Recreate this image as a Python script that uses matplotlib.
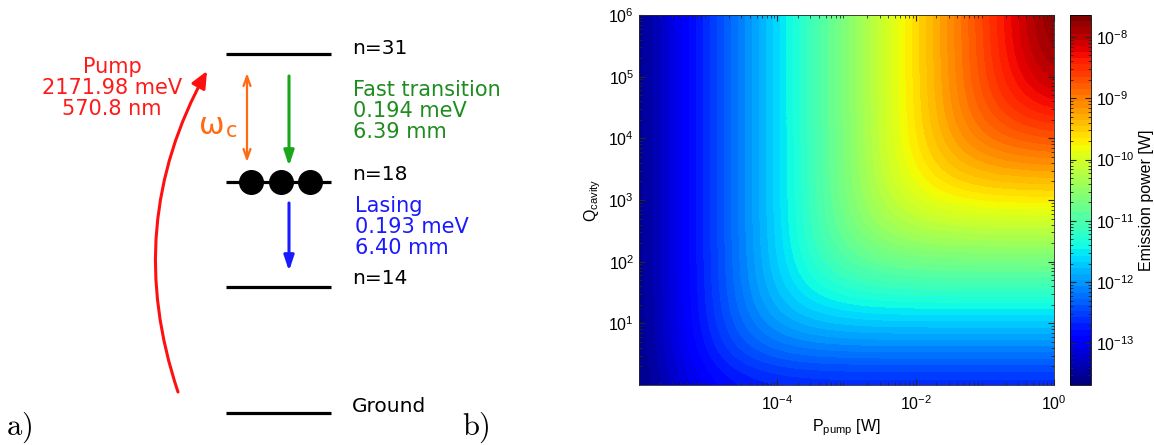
import numpy as np
import matplotlib
import matplotlib.pyplot as plt
from matplotlib.patches import FancyArrowPatch
from matplotlib.colors import BoundaryNorm

matplotlib.use('Agg')

plt.rcParams['font.family'] = 'Liberation Sans'
plt.rcParams['mathtext.fontset'] = 'custom'
plt.rcParams['mathtext.rm'] = 'Liberation Sans'
plt.rcParams['mathtext.it'] = 'Liberation Sans:italic'

# ---- b) emission power map (log10 scale) ----
log_p = [-6.0, -5.5, -5.0, -4.5, -4.0, -3.5, -3.0, -2.5, -2.0, -1.5, -1.0, -0.5, 0.0]
log_q = [0.0, 0.5, 1.0, 1.5, 2.0, 2.5, 3.0, 3.5, 4.0, 4.5, 5.0, 5.5, 6.0]
# rows follow log_q, columns follow log_p
log_emission = [
    [-13.65, -13.25, -12.95, -12.80, -12.73, -12.71, -12.70, -12.70, -12.70, -12.70, -12.70, -12.70, -12.70],
    [-13.62, -13.15, -12.75, -12.45, -12.30, -12.23, -12.21, -12.20, -12.20, -12.20, -12.20, -12.20, -12.20],
    [-13.61, -13.12, -12.65, -12.25, -11.95, -11.80, -11.73, -11.71, -11.70, -11.70, -11.70, -11.70, -11.70],
    [-13.60, -13.11, -12.62, -12.15, -11.75, -11.45, -11.30, -11.23, -11.21, -11.20, -11.20, -11.20, -11.20],
    [-13.60, -13.10, -12.61, -12.12, -11.65, -11.25, -10.95, -10.80, -10.73, -10.71, -10.70, -10.70, -10.70],
    [-13.60, -13.10, -12.60, -12.11, -11.62, -11.15, -10.75, -10.45, -10.30, -10.23, -10.21, -10.20, -10.20],
    [-13.60, -13.10, -12.60, -12.10, -11.61, -11.12, -10.65, -10.25, -9.95, -9.80, -9.73, -9.71, -9.70],
    [-13.60, -13.10, -12.60, -12.10, -11.60, -11.11, -10.62, -10.15, -9.75, -9.45, -9.30, -9.23, -9.21],
    [-13.60, -13.10, -12.60, -12.10, -11.60, -11.10, -10.61, -10.12, -9.65, -9.25, -8.95, -8.80, -8.73],
    [-13.60, -13.10, -12.60, -12.10, -11.60, -11.10, -10.60, -10.11, -9.62, -9.15, -8.75, -8.45, -8.30],
    [-13.60, -13.10, -12.60, -12.10, -11.60, -11.10, -10.60, -10.10, -9.61, -9.12, -8.65, -8.25, -7.95],
    [-13.60, -13.10, -12.60, -12.10, -11.60, -11.10, -10.60, -10.10, -9.60, -9.11, -8.62, -8.15, -7.75],
    [-13.60, -13.10, -12.60, -12.10, -11.60, -11.10, -10.60, -10.10, -9.60, -9.10, -8.61, -8.12, -7.65],
]
x_tick_exp = [-4, -2, 0]
y_tick_exp = [1, 2, 3, 4, 5, 6]
cbar_tick_exp = [-13, -12, -11, -10, -9, -8]

# ---- a) level diagram ----
level_names = ['n=31', 'n=18', 'n=14', 'Ground']
pump_text = 'Pump\n2171.98 meV\n570.8 nm'
fast_text = 'Fast transition\n0.194 meV\n6.39 mm'
lasing_text = 'Lasing\n0.193 meV\n6.40 mm'
n_electrons = 3

W, H = 1154, 445
fig = plt.figure(figsize=(W / 100, H / 100), dpi=100)

# diagram drawn in pixel-like coordinates
ax0 = fig.add_axes([0, 0, 1, 1])
ax0.set_xlim(0, W)
ax0.set_ylim(H, 0)
ax0.axis('off')

level_y = [54, 182, 287, 413]
label_y = [48, 175, 279, 407]
for name, ly, ty in zip(level_names, level_y, label_y):
    ax0.plot([226, 331], [ly, ly], color='black', lw=2.3, solid_capstyle='butt')
    ax0.text(352, ty, name, fontsize=14.5, family='DejaVu Sans', va='center', ha='left')

ex = np.linspace(251, 310, n_electrons)
ax0.plot(ex, [182] * n_electrons, 'o', color='black', ms=17)

# omega_c double arrow
ax0.annotate('', xy=(247, 162), xytext=(247, 73),
             arrowprops=dict(arrowstyle='<->,head_length=0.7,head_width=0.25',
                             color='#ff6a13', lw=1.6, shrinkA=0, shrinkB=0))
ax0.text(199, 126, 'ω', color='#ff6a13', fontsize=22, family='DejaVu Sans', va='center', ha='left')
ax0.text(226, 131, 'c', color='#ff6a13', fontsize=15, family='DejaVu Sans', va='center', ha='left')

# fast transition arrow
ax0.annotate('', xy=(289, 166), xytext=(289, 76),
             arrowprops=dict(arrowstyle='-|>,head_length=0.9,head_width=0.3',
                             color='#1aa61a', lw=2.2, shrinkA=0, shrinkB=0))
# lasing arrow
ax0.annotate('', xy=(289, 271), xytext=(289, 203),
             arrowprops=dict(arrowstyle='-|>,head_length=0.9,head_width=0.3',
                             color='#1a1aff', lw=2.2, shrinkA=0, shrinkB=0))

# pump arrow
pump = FancyArrowPatch((178, 392), (207, 71), connectionstyle='arc3,rad=-0.22',
                       arrowstyle='-|>,head_length=10,head_width=4.5',
                       color='#ff1010', lw=2.2, shrinkA=0, shrinkB=0)
ax0.add_patch(pump)

ax0.text(112, 88, pump_text, color='#ff1a1a', fontsize=15, family='DejaVu Sans',
         ha='center', va='center', multialignment='center', linespacing=1.05)
ax0.text(353, 111, fast_text, color='#1e8c1e', fontsize=15, family='DejaVu Sans',
         ha='left', va='center', linespacing=1.05)
ax0.text(355, 227, lasing_text, color='#1a1aff', fontsize=15, family='DejaVu Sans',
         ha='left', va='center', linespacing=1.05)

ax0.text(6, 428, r'$\mathrm{a)}$', fontsize=22, math_fontfamily='cm', va='center', ha='left')
ax0.text(462, 428, r'$\mathrm{b)}$', fontsize=22, math_fontfamily='cm', va='center', ha='left')

# ---- heat map ----
ax = fig.add_axes([639 / W, 1 - 385 / H, 415 / W, 370 / H])
levels = np.linspace(-13.68, -7.64, 61)
norm = BoundaryNorm(levels, 256)
dp = (log_p[1] - log_p[0]) / 2
dq = (log_q[1] - log_q[0]) / 2
im = ax.imshow(np.array(log_emission), origin='lower', cmap='jet', norm=norm,
               extent=[log_p[0] - dp, log_p[-1] + dp, log_q[0] - dq, log_q[-1] + dq],
               interpolation='bicubic', interpolation_stage='data', aspect='auto')
ax.set_xlim(log_p[0], log_p[-1])
ax.set_ylim(log_q[0], log_q[-1])

minor = [np.log10(k) + n for n in range(-14, 6) for k in range(2, 10)]
ax.set_xticks(x_tick_exp)
ax.set_xticklabels([r'$10^{%d}$' % e for e in x_tick_exp])
ax.set_yticks(y_tick_exp)
ax.set_yticklabels([r'$10^{%d}$' % e for e in y_tick_exp])
ax.set_xticks([m for m in minor if log_p[0] < m < log_p[-1]], minor=True)
ax.set_yticks([m for m in minor if log_q[0] < m < log_q[-1]], minor=True)
ax.tick_params(which='both', direction='in', top=True, right=True, labelsize=11.5, color='#262626')
ax.tick_params(which='major', length=4)
ax.tick_params(which='minor', length=2)
ax.tick_params(axis='x', pad=7)
for s in ax.spines.values():
    s.set_color('#262626')
    s.set_linewidth(0.6)
ax.set_xlabel(r'$\mathregular{P_{pump}}$ [W]', fontsize=11.5, labelpad=3)
ax.set_ylabel(r'$\mathregular{Q_{cavity}}$', fontsize=11.5, labelpad=4)

cax = fig.add_axes([1070 / W, 1 - 385 / H, 21 / W, 370 / H])
cb = fig.colorbar(im, cax=cax)
cb.set_ticks(cbar_tick_exp)
cb.set_ticklabels([r'$10^{%d}$' % e for e in cbar_tick_exp])
cax.set_yticks([m for m in minor if levels[0] < m < levels[-1]], minor=True)
cax.tick_params(which='both', direction='in', left=True, right=True, labelsize=11.5, color='#262626')
cax.tick_params(which='major', length=4)
cax.tick_params(which='minor', length=2)
cb.outline.set_linewidth(0.6)
cb.set_label('Emission power [W]', fontsize=11.5, labelpad=3)

fig.savefig('out.png', dpi=100)
